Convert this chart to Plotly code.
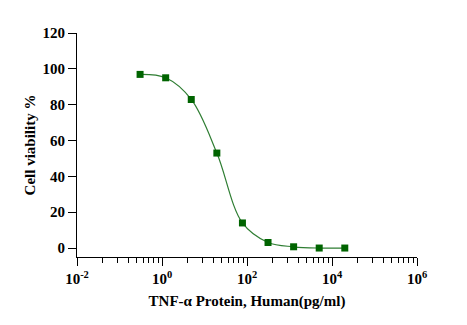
import plotly.graph_objects as go

# 4-fold serial dilution of TNF-alpha (pg/ml) and measured viability (%)
concentration = [0.305, 1.22, 4.88, 19.53, 78.125, 312.5, 1250, 5000, 20000]
viability = [96.9, 95.0, 82.9, 53.0, 14.0, 3.1, 0.7, 0.0, 0.0]

x_tick_vals = [1e-2, 1e0, 1e2, 1e4, 1e6]
x_tick_text = ["10<sup>-2</sup>", "10<sup>0</sup>", "10<sup>2</sup>", "10<sup>4</sup>", "10<sup>6</sup>"]
y_tick_vals = [0, 20, 40, 60, 80, 100, 120]

# minor ticks subdivide each two-decade step: 10^a * k^2
minor_vals = [a * k * k for a in (1e-2, 1e0, 1e2, 1e4) for k in range(2, 10)]

SERIF = "Liberation Serif"
DARK_GREEN = "#006400"
LINE_GREEN = "#2e7d32"

fig = go.Figure()
fig.add_trace(go.Scatter(
    x=concentration, y=viability,
    mode="lines+markers",
    line=dict(color=LINE_GREEN, width=1.2, shape="spline", smoothing=1.0),
    marker=dict(symbol="square", size=7, color=DARK_GREEN),
    showlegend=False,
    hoverinfo="x+y",
))

fig.update_layout(
    width=467, height=325,
    margin=dict(l=77, r=50, t=33, b=68),
    paper_bgcolor="white", plot_bgcolor="white",
    font=dict(family=SERIF, color="black", size=15),
    xaxis=dict(
        type="log", range=[-2, 6],
        tickvals=x_tick_vals, ticktext=x_tick_text,
        ticks="outside", ticklen=8, tickwidth=1, tickcolor="black",
        minor=dict(tickvals=minor_vals, ticks="outside", ticklen=5, tickwidth=1, tickcolor="black"),
        showline=True, linecolor="black", linewidth=1.2,
        showgrid=False, zeroline=False,
        tickfont=dict(family=SERIF, size=15, weight="bold"),
        title=dict(text="TNF-α Protein, Human(pg/ml)", standoff=9,
                   font=dict(family=SERIF, size=15, weight="bold")),
    ),
    yaxis=dict(
        range=[-5, 120],
        tickvals=y_tick_vals,
        ticks="outside", ticklen=8, tickwidth=1, tickcolor="black",
        showline=True, linecolor="black", linewidth=1.2,
        showgrid=False, zeroline=False,
        tickfont=dict(family=SERIF, size=15, weight="bold"),
        title=dict(text="Cell viability %", standoff=3,
                   font=dict(family=SERIF, size=15, weight="bold")),
    ),
)

fig.write_html("out.html")
